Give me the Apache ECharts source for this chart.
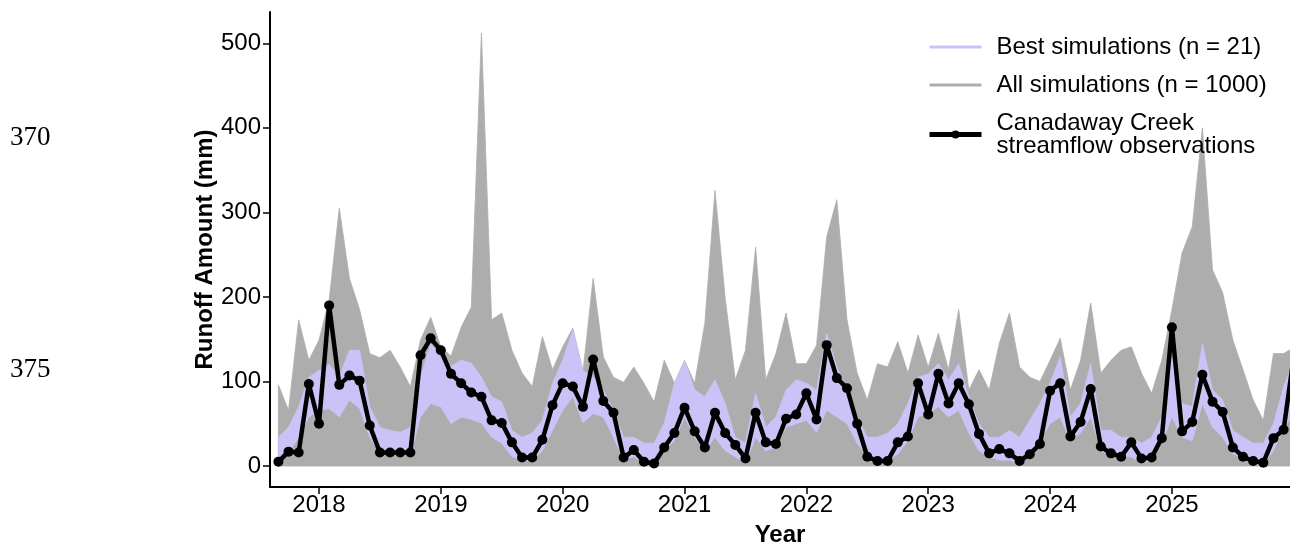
<!DOCTYPE html>
<html>
<head>
<meta charset="utf-8">
<script src="https://cdn.jsdelivr.net/npm/echarts@6/dist/echarts.min.js"></script>
<style>
html,body{margin:0;padding:0;background:#ffffff;}
#chart{width:1290px;height:544px;}
</style>
</head>
<body>
<div id="chart"></div>
<script>
// ---- Data (monthly, Sep 2017 .. Jan 2026) ----
const firstYear = 2017, firstMonth = 9, monthCount = 101;
const months = [];
for (let k = 0; k < monthCount; k++) {
  const m0 = firstMonth - 1 + k;
  const y = firstYear + Math.floor(m0 / 12), m = (m0 % 12) + 1;
  months.push(y + '-' + String(m).padStart(2, '0'));
}
const yearTicks = [2018, 2019, 2020, 2021, 2022, 2023, 2024, 2025];
const yTicks = [0, 100, 200, 300, 400, 500];

// Canadaway Creek streamflow observations (mm)
const observed = [
  5, 17, 16, 97, 50, 190, 96, 107, 101, 48, 16, 16,
  16, 16, 131, 151, 137, 109, 98, 87, 82, 54, 51, 28,
  10, 10, 31, 72, 98, 94, 70, 126, 77, 63, 10, 19,
  5, 3, 22, 39, 69, 41, 22, 63, 39, 25, 9, 63,
  28, 26, 56, 61, 86, 55, 143, 104, 92, 50, 11, 6,
  6, 28, 35, 98, 61, 109, 74, 98, 73, 38, 15, 20,
  15, 6, 14, 26, 89, 98, 35, 52, 91, 23, 15, 11,
  28, 9, 10, 33, 164, 41, 52, 108, 76, 64, 22, 11,
  6, 4, 33, 43, 130
];
// All simulations (n = 1000): upper / lower envelope
const allUpper = [
  96, 66, 173, 125, 149, 196, 305, 222, 185, 133, 128, 137,
  117, 94, 149, 176, 141, 130, 164, 188, 512, 173, 181, 137,
  110, 94, 153, 114, 141, 163, 112, 222, 129, 105, 99, 117,
  98, 76, 125, 98, 125, 98, 169, 326, 199, 102, 137, 259,
  102, 133, 181, 121, 121, 143, 271, 315, 173, 110, 78, 121,
  117, 147, 110, 155, 117, 157, 114, 185, 90, 114, 90, 145,
  181, 117, 105, 100, 125, 151, 90, 125, 193, 110, 125, 137,
  141, 110, 86, 125, 185, 252, 283, 400, 232, 205, 149, 114,
  78, 54, 133, 133, 140
];
const allLower = [
  0, 0, 0, 0, 0, 0, 0, 0, 0, 0, 0, 0,
  0, 0, 0, 0, 0, 0, 0, 0, 0, 0, 0, 0,
  0, 0, 0, 0, 0, 0, 0, 0, 0, 0, 0, 0,
  0, 0, 0, 0, 0, 0, 0, 0, 0, 0, 0, 0,
  0, 0, 0, 0, 0, 0, 0, 0, 0, 0, 0, 0,
  0, 0, 0, 0, 0, 0, 0, 0, 0, 0, 0, 0,
  0, 0, 0, 0, 0, 0, 0, 0, 0, 0, 0, 0,
  0, 0, 0, 0, 0, 0, 0, 0, 0, 0, 0, 0,
  0, 0, 0, 0, 0
];
// Best simulations (n = 21): upper / lower envelope
const bestUpper = [
  34, 46, 70, 105, 113, 120, 105, 137, 137, 70, 46, 42,
  40, 46, 105, 145, 129, 118, 125, 122, 105, 82, 76, 42,
  34, 39, 54, 98, 125, 161, 113, 105, 90, 66, 34, 34,
  27, 27, 51, 98, 125, 90, 82, 102, 74, 34, 27, 86,
  46, 58, 90, 102, 98, 90, 157, 117, 90, 58, 34, 34,
  39, 50, 74, 105, 109, 121, 102, 121, 82, 50, 34, 34,
  42, 34, 54, 74, 98, 129, 58, 74, 121, 42, 42, 34,
  34, 27, 34, 58, 129, 74, 70, 145, 90, 78, 42, 34,
  27, 27, 50, 94, 125
];
const bestLower = [
  7, 15, 34, 58, 66, 68, 58, 78, 68, 34, 15, 14,
  14, 12, 58, 74, 70, 50, 58, 55, 51, 34, 27, 11,
  7, 7, 18, 42, 66, 82, 51, 62, 58, 34, 7, 11,
  3, 3, 18, 30, 58, 34, 18, 34, 18, 11, 3, 34,
  18, 22, 46, 50, 54, 40, 66, 58, 50, 27, 11, 7,
  7, 14, 30, 58, 62, 70, 58, 66, 39, 18, 11, 7,
  7, 3, 14, 30, 50, 58, 30, 39, 58, 18, 14, 11,
  11, 3, 7, 27, 58, 34, 30, 74, 46, 34, 14, 11,
  3, 2, 18, 46, 60
];
const seriesNames = ['Best simulations (n = 21)', 'All simulations (n = 1000)', 'Canadaway Creek\nstreamflow observations'];

// ---- Build ----
const xs = months.map(s => { const p = s.split('-'); return +p[0] + (+p[1] - 1) / 12; });

function band(name, upper, lower, color, z) {
  return {
    type: 'custom', name: name, z: z, silent: true,
    itemStyle: { color: color },
    data: xs.map((x, i) => [x, upper[i], lower[i]]),
    encode: { x: 0, y: [1, 2] },
    renderItem: function (params, api) {
      if (params.dataIndex !== 0) return null;
      const pts = [];
      for (let i = 0; i < xs.length; i++) pts.push(api.coord([xs[i], upper[i]]));
      for (let i = xs.length - 1; i >= 0; i--) pts.push(api.coord([xs[i], lower[i]]));
      return { type: 'polygon', shape: { points: pts }, style: { fill: color, stroke: color, lineWidth: 0.8 } };
    }
  };
}

const FONT = '"Liberation Sans", Arial, Helvetica, sans-serif';
const SERIF = '"Liberation Serif", "Times New Roman", serif';
const chart = echarts.init(document.getElementById('chart'), null, { renderer: 'canvas' });
chart.setOption({
  animation: false,
  backgroundColor: '#ffffff',
  textStyle: { fontFamily: FONT },
  grid: { left: 270, right: 0, top: 12, bottom: 57, containLabel: false, outerBoundsMode: 'none' },
  xAxis: {
    type: 'value', min: 2017.598, max: 2025.969,
    name: 'Year', nameLocation: 'middle', nameGap: 36, nameMoveOverlap: false,
    nameTextStyle: { fontFamily: FONT, fontSize: 24, fontWeight: 'bold', color: '#000' },
    axisLine: { onZero: false, lineStyle: { color: '#000', width: 2 } },
    axisTick: { customValues: yearTicks, length: 7, lineStyle: { color: '#000', width: 1.5 } },
    axisLabel: { customValues: yearTicks, margin: 6, fontSize: 24, color: '#000', fontFamily: FONT,
      formatter: v => String(Math.round(v)) },
    splitLine: { show: false }
  },
  yAxis: {
    type: 'value', min: -24.8, max: 537,
    name: 'Runoff Amount (mm)', nameLocation: 'middle', nameGap: 53, nameMoveOverlap: false,
    nameTextStyle: { fontFamily: FONT, fontSize: 24, fontWeight: 'bold', color: '#000' },
    axisLine: { show: true, onZero: false, lineStyle: { color: '#000', width: 2 } },
    axisTick: { show: true, customValues: yTicks, length: 7, lineStyle: { color: '#000', width: 1.5 } },
    axisLabel: { customValues: yTicks, margin: 9, fontSize: 24, color: '#000', fontFamily: FONT },
    splitLine: { show: false }
  },
  legend: {
    orient: 'vertical', left: 927, top: 35, padding: 0,
    itemWidth: 52, itemHeight: 10, itemGap: 14,
    selectedMode: false,
    textStyle: { fontFamily: FONT, fontSize: 24, lineHeight: 23, color: '#000', padding: [0, 0, 0, 10] },
    data: [
      { name: seriesNames[0], icon: 'path://M0,0H52V3H0Z' },
      { name: seriesNames[1], icon: 'path://M0,0H52V3H0Z' },
      { name: seriesNames[2], lineStyle: { width: 5, color: '#000' } }
    ]
  },
  series: [
    band(seriesNames[1], allUpper, allLower, '#adadad', 1),
    band(seriesNames[0], bestUpper, bestLower, '#cbc3f7', 2),
    {
      type: 'line', name: seriesNames[2], z: 5,
      data: xs.map((x, i) => [x, observed[i]]),
      symbol: 'circle', symbolSize: 10, showSymbol: true,
      lineStyle: { color: '#000', width: 4.5 },
      itemStyle: { color: '#000' },
      clip: true
    }
  ],
  graphic: [
    { type: 'text', left: 10, top: 124, style: { text: '370', fontFamily: SERIF, fontSize: 27, fill: '#000' } },
    { type: 'text', left: 10, top: 356, style: { text: '375', fontFamily: SERIF, fontSize: 27, fill: '#000' } }
  ]
});
</script>
</body>
</html>
